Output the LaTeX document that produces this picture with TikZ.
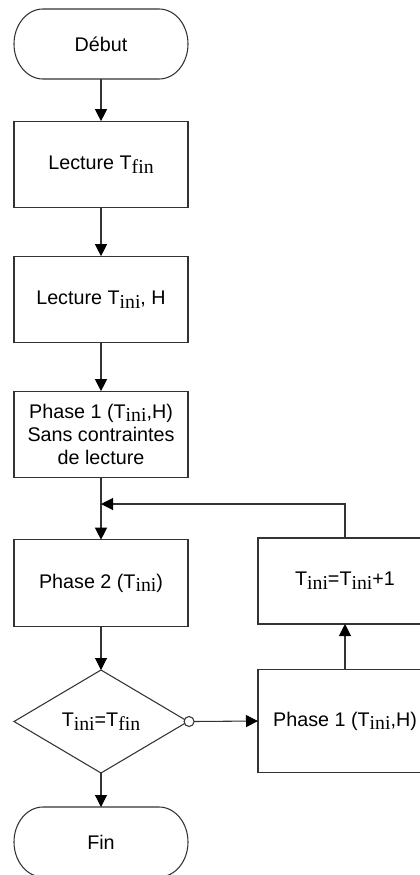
\documentclass[tikz,border=0pt]{standalone}
\usepackage{fontspec}
\setmainfont{Liberation Sans}
\newfontfamily\subfont{Liberation Serif}
\usetikzlibrary{arrows.meta,shapes.geometric}
% subscript set in a serif face, slightly lowered
\newcommand{\sbs}[1]{\raisebox{-2.8pt}{\subfont #1}}
\tikzset{
  line/.style={draw=black!80, line width=0.8pt},
  arr/.style={line, -{Triangle[length=9pt,width=9pt,fill=black,color=black]}},
  box/.style={line, rectangle, minimum width=130.5pt, minimum height=65pt,
              inner sep=0pt, outer sep=0pt, align=center,
              font=\fontsize{14.8pt}{17.5pt}\selectfont},
  term/.style={rectangle, minimum width=130.5pt, minimum height=52.5pt,
               inner sep=0pt, outer sep=0pt, font=\fontsize{14.8pt}{17pt}\selectfont},
  test/.style={line, diamond, minimum width=130.5pt, minimum height=77.25pt,
               aspect=1.7, inner sep=0pt, outer sep=0pt,
               font=\fontsize{14.8pt}{17pt}\selectfont},
}
% outline of a terminal (stadium) node with elliptical ends
\newcommand{\stadium}[1]{%
  \draw[line] ([xshift=21.75pt]#1.north west) -- ([xshift=-21.75pt]#1.north east)
    arc[start angle=90, end angle=-90, x radius=21.75pt, y radius=26.25pt]
    -- ([xshift=21.75pt]#1.south west)
    arc[start angle=270, end angle=90, x radius=21.75pt, y radius=26.25pt] -- cycle;}
\begin{document}
\begin{tikzpicture}[x=0.75pt, y=-0.75pt]
  \useasboundingbox (0,0) rectangle (420,875);
  \clip (0,0) rectangle (420,875);

  % main column
  \node[term] (debut) at (101,44) {Début};
  \stadium{debut}
  \node[box] (ltfin) at (101,164.5) {Lecture T\sbs{fin}};
  \node[box] (ltini) at (101,299.5) {Lecture T\sbs{ini}, H};
  \node[box] (ph1) at (101,434.5) {Phase 1 (T\sbs{ini},H)\\Sans contraintes\\de lecture};
  \node[box] (ph2) at (101,583) {Phase 2 (T\sbs{ini})};
  \node[test] (cond) at (101,721.5) {T\sbs{ini}=T\sbs{fin}};
  \node[term] (fin) at (101,842) {Fin};
  \stadium{fin}

  % loop column
  \node[box, minimum height=64.5pt] (incr) at (345,581) {T\sbs{ini}=T\sbs{ini}+1};
  \node[box, minimum height=77.25pt] (ph1b) at (345,721) {Phase 1 (T\sbs{ini},H)};

  % connectors
  \draw[arr] (debut) -- (ltfin);
  \draw[arr] (ltfin) -- (ltini);
  \draw[arr] (ltini) -- (ph1);
  \draw[arr] (ph1) -- (ph2);
  \draw[arr] (ph2) -- (cond);
  \draw[arr] (cond) -- (fin);

  \node[line, circle, minimum size=7.5pt, inner sep=0pt, outer sep=0pt, fill=white]
    (no) at ([xshift=0.8pt]cond.east) {};
  \draw[arr] (no.east) -- (ph1b.west);
  \draw[arr] (ph1b) -- (incr);

  \coordinate (join) at (101,504);
  \draw[arr] (incr.north) |- (join);
\end{tikzpicture}
\end{document}
